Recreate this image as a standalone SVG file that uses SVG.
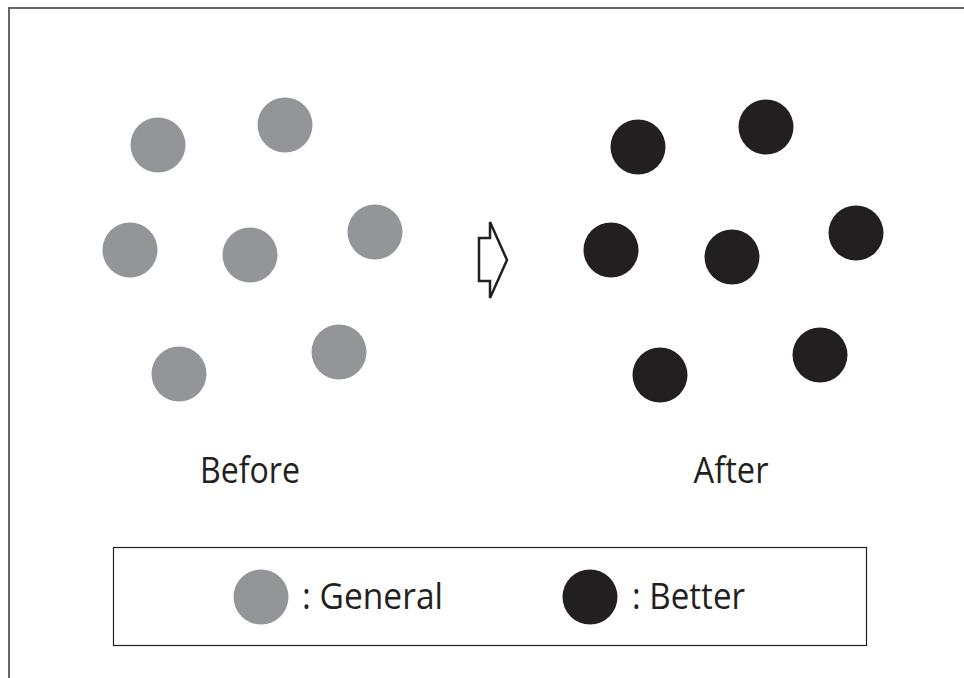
<svg xmlns="http://www.w3.org/2000/svg" width="964" height="678" viewBox="0 0 964 678">
<style>
.g{fill:#939598}
.b{fill:#231f20}
.t{font-family:"Open Sans","Liberation Sans",sans-serif;font-size:36px;fill:#231f20}
</style>
<rect width="964" height="678" fill="#fff"/>
<g id="frame" fill="none" stroke="#666" stroke-width="2">
<path d="M9 678 V8 H964"/>
</g>
<g id="before">
<circle class="g" cx="158" cy="145" r="27.5"/>
<circle class="g" cx="285" cy="125" r="27.5"/>
<circle class="g" cx="130" cy="250" r="27.5"/>
<circle class="g" cx="250" cy="255" r="27.5"/>
<circle class="g" cx="375" cy="232" r="27.5"/>
<circle class="g" cx="179" cy="374" r="27.5"/>
<circle class="g" cx="339" cy="352" r="27.5"/>
<text class="t" x="250" y="483" text-anchor="middle" textLength="100" lengthAdjust="spacingAndGlyphs">Before</text>
</g>
<g id="arrow">
<polygon points="479,238 490,238 490,222 507,260 490,298 490,281 479,281" fill="#fff" stroke="#231f20" stroke-width="2.5"/>
</g>
<g id="after">
<circle class="b" cx="638" cy="147" r="27.5"/>
<circle class="b" cx="766" cy="127" r="27.5"/>
<circle class="b" cx="611" cy="250" r="27.5"/>
<circle class="b" cx="732" cy="257" r="27.5"/>
<circle class="b" cx="856" cy="233" r="27.5"/>
<circle class="b" cx="660" cy="375" r="27.5"/>
<circle class="b" cx="820" cy="355" r="27.5"/>
<text class="t" x="731" y="483" text-anchor="middle" textLength="75" lengthAdjust="spacingAndGlyphs">After</text>
</g>
<g id="legend">
<rect x="113.5" y="547.5" width="753" height="98" fill="none" stroke="#231f20" stroke-width="1.2"/>
<circle class="g" cx="261" cy="597" r="27.5"/>
<text class="t" x="302" y="609" textLength="141" lengthAdjust="spacingAndGlyphs">: General</text>
<circle class="b" cx="590" cy="597" r="27.5"/>
<text class="t" x="632" y="609" textLength="113" lengthAdjust="spacingAndGlyphs">: Better</text>
</g>
</svg>
